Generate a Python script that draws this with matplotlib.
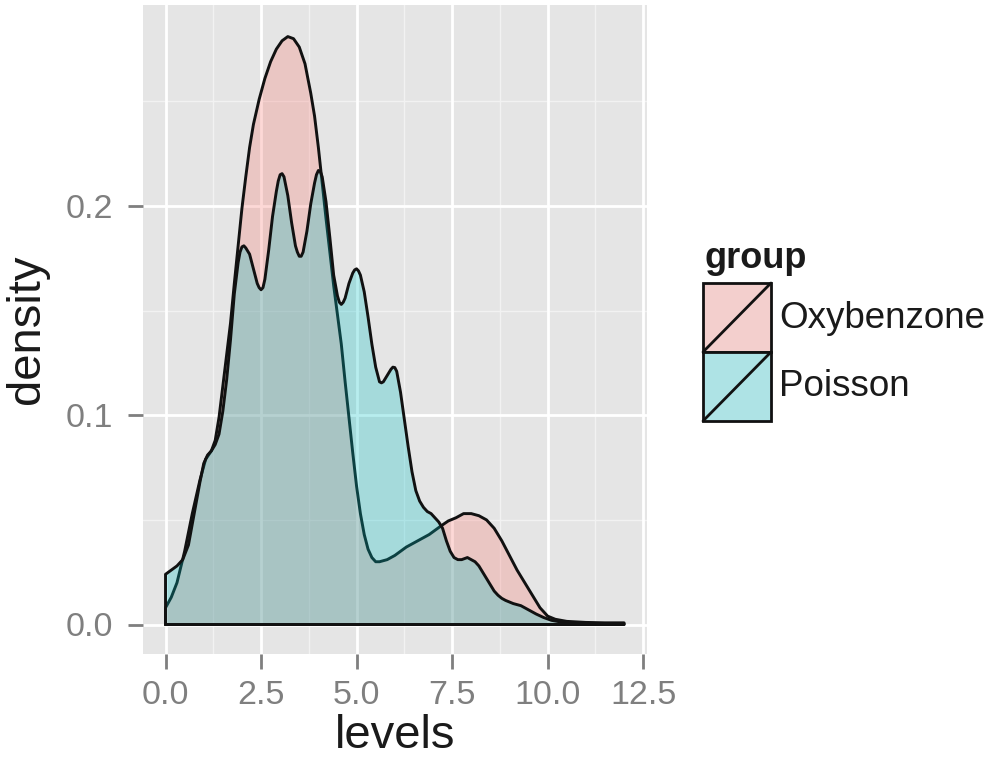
import matplotlib
matplotlib.use("Agg")
import matplotlib.pyplot as plt
from matplotlib.patches import Rectangle

plt.rcParams['font.family'] = ['Liberation Sans', 'DejaVu Sans']

# ---- data ----
groups = ["Oxybenzone", "Poisson"]
colors = ["#F8766D", "#00BFC4"]

oxy_x = [0.0, 0.15, 0.3, 0.5, 0.7, 0.9, 1.05, 1.2, 1.3, 1.4, 1.5, 1.6, 1.7, 1.8, 1.9,
         2.0, 2.1, 2.2, 2.3, 2.45, 2.6, 2.75, 2.9, 3.05, 3.2, 3.35, 3.5, 3.65, 3.8, 3.9,
         4.0, 4.1, 4.2, 4.3, 4.4, 4.5, 4.6, 4.7, 4.8, 4.9, 5.0, 5.1, 5.2, 5.3, 5.4, 5.5,
         5.6, 5.8, 6.0, 6.3, 6.6, 6.9, 7.2, 7.4, 7.6, 7.8, 8.0, 8.2, 8.4, 8.6, 8.8, 9.0,
         9.2, 9.4, 9.6, 9.8, 10.0, 10.2, 10.5, 11.0, 11.5, 12.0]
oxy_y = [0.008, 0.013, 0.020, 0.035, 0.053, 0.069, 0.079, 0.083, 0.088, 0.099, 0.114, 0.129,
         0.144, 0.163, 0.181, 0.199, 0.214, 0.228, 0.239, 0.251, 0.261, 0.269, 0.275, 0.279,
         0.281, 0.280, 0.276, 0.268, 0.254, 0.243, 0.228, 0.211, 0.194, 0.178, 0.162, 0.148,
         0.134, 0.116, 0.099, 0.082, 0.066, 0.053, 0.043, 0.036, 0.032, 0.030, 0.030, 0.031,
         0.033, 0.037, 0.040, 0.043, 0.047, 0.0495, 0.051, 0.053, 0.053, 0.052, 0.050, 0.046,
         0.040, 0.033, 0.026, 0.020, 0.014, 0.008, 0.004, 0.0025, 0.0015, 0.001, 0.0008, 0.0008]

poi_x = [0.0, 0.15, 0.3, 0.45, 0.6, 0.7, 0.8, 0.9, 1.0, 1.1, 1.2, 1.3, 1.4, 1.5, 1.6, 1.7,
         1.8, 1.9, 1.95, 2.0, 2.05, 2.1, 2.2, 2.3, 2.4, 2.45, 2.5, 2.55, 2.6, 2.7, 2.8, 2.9,
         2.95, 3.0, 3.05, 3.1, 3.2, 3.3, 3.4, 3.45, 3.5, 3.55, 3.6, 3.7, 3.8, 3.9, 3.95,
         4.0, 4.05, 4.1, 4.2, 4.3, 4.4, 4.5, 4.55, 4.6, 4.65, 4.7, 4.8, 4.9, 4.95, 5.0, 5.05,
         5.1, 5.2, 5.3, 5.4, 5.5, 5.6, 5.65, 5.7, 5.8, 5.9, 5.95, 6.0, 6.05, 6.15, 6.25,
         6.35, 6.45, 6.55, 6.65, 6.75, 6.85, 6.95, 7.05, 7.15, 7.25, 7.35, 7.45, 7.55, 7.65,
         7.75, 7.9, 8.0, 8.1, 8.2, 8.3, 8.4, 8.5, 8.6, 8.7, 8.8, 8.9, 9.1, 9.3, 9.5, 9.7,
         9.9, 10.1, 10.4, 11.0, 11.5, 12.0]
poi_y = [0.024, 0.026, 0.028, 0.031, 0.038, 0.048, 0.058, 0.068, 0.077, 0.081, 0.083, 0.086,
         0.091, 0.102, 0.117, 0.136, 0.158, 0.173, 0.178, 0.1805, 0.181, 0.180, 0.177, 0.170,
         0.163, 0.161, 0.160, 0.161, 0.165, 0.179, 0.195, 0.207, 0.212, 0.215, 0.2155, 0.214,
         0.205, 0.192, 0.181, 0.178, 0.176, 0.176, 0.178, 0.188, 0.201, 0.211, 0.215, 0.217,
         0.2165, 0.214, 0.202, 0.185, 0.167, 0.157, 0.154, 0.153, 0.154, 0.156, 0.163, 0.168,
         0.1695, 0.170, 0.169, 0.167, 0.159, 0.147, 0.134, 0.123, 0.116, 0.1155, 0.116, 0.119,
         0.122, 0.123, 0.1228, 0.121, 0.111, 0.098, 0.085, 0.073, 0.064, 0.059, 0.056, 0.054,
         0.053, 0.051, 0.049, 0.046, 0.040, 0.035, 0.032, 0.031, 0.031, 0.032, 0.031, 0.030,
         0.028, 0.025, 0.022, 0.019, 0.016, 0.014, 0.0125, 0.0115, 0.010, 0.009, 0.007,
         0.005, 0.0033, 0.002, 0.001, 0.0005, 0.0004, 0.0004]

series_x = [oxy_x, poi_x]
series_y = [oxy_y, poi_y]

x_ticks = [0.0, 2.5, 5.0, 7.5, 10.0, 12.5]
x_ticklabels = ["0.0", "2.5", "5.0", "7.5", "10.0", "12.5"]
y_ticks = [0.0, 0.1, 0.2]
y_ticklabels = ["0.0", "0.1", "0.2"]

# ---- figure ----
W, H = 994, 760
fig = plt.figure(figsize=(W / 100, H / 100), dpi=100)
fig.patch.set_facecolor("white")

def fx(px):
    return px / W

def fy(py):
    return 1 - py / H

ax = fig.add_axes([fx(142.6), fy(654), fx(647) - fx(142.6), fy(5) - fy(654)])
ax.set_facecolor("#E5E5E5")
ax.set_xlim(-0.6, 12.6)
ax.set_ylim(-0.0141, 0.2961)

# grid
for xv in [1.25, 3.75, 6.25, 8.75, 11.25]:
    ax.axvline(xv, color="#F2F2F2", lw=1.0, zorder=0.5)
for yv in [0.05, 0.15, 0.25]:
    ax.axhline(yv, color="#F2F2F2", lw=1.0, zorder=0.5)
for xv in x_ticks:
    ax.axvline(xv, color="white", lw=2.0, zorder=0.6)
for yv in y_ticks:
    ax.axhline(yv, color="white", lw=2.0, zorder=0.6)

alpha = 0.28
z = 1
for xs, ys, c in zip(series_x, series_y, colors):
    px = [xs[0]] + list(xs) + [xs[-1]]
    py = [0.0] + list(ys) + [0.0]
    ax.fill(px, py, facecolor=c, alpha=alpha, edgecolor="none", zorder=z)
    ax.plot(px + [px[0]], py + [py[0]], color="#111111", lw=2.1,
            solid_joinstyle="round", solid_capstyle="round", zorder=z + 1)
    z += 2

for s in ax.spines.values():
    s.set_visible(False)

ax.set_xticks(x_ticks)
ax.set_xticklabels(x_ticklabels)
ax.set_yticks(y_ticks)
ax.set_yticklabels(y_ticklabels)
ax.tick_params(axis="both", direction="out", length=11, width=2, color="#7F7F7F",
               labelcolor="#7F7F7F", labelsize=24.5)
ax.tick_params(axis="x", pad=8)
ax.tick_params(axis="y", pad=10)

ax.set_xlabel("levels", fontsize=34, color="#1a1a1a", labelpad=2)
ax.set_ylabel("density", fontsize=34, color="#1a1a1a", labelpad=12)

# ---- legend (manual) ----
fig.text(fx(704), fy(258), "group", fontsize=26, fontweight="bold", color="#1a1a1a",
         ha="left", va="center")
lax = fig.add_axes([0, 0, 1, 1], facecolor="none")
lax.set_xlim(0, W)
lax.set_ylim(H, 0)
lax.axis("off")
key_top = [283, 352]
for i, (g, c) in enumerate(zip(groups, colors)):
    t = key_top[i]
    lax.add_patch(Rectangle((703, t), 68, 69, facecolor="#F2F2F2", edgecolor="none"))
    lax.add_patch(Rectangle((703, t), 68, 69, facecolor=c, alpha=alpha, edgecolor="none"))
    lax.add_patch(Rectangle((703, t), 68, 69, facecolor="none", edgecolor="#111111", lw=2.0))
    lax.plot([703, 771], [t + 69, t], color="#111111", lw=2.0, solid_capstyle="round")
    lax.text(779, t + 35, g, fontsize=26.5, color="#1a1a1a", ha="left", va="center")

fig.savefig("out.png", dpi=100)
